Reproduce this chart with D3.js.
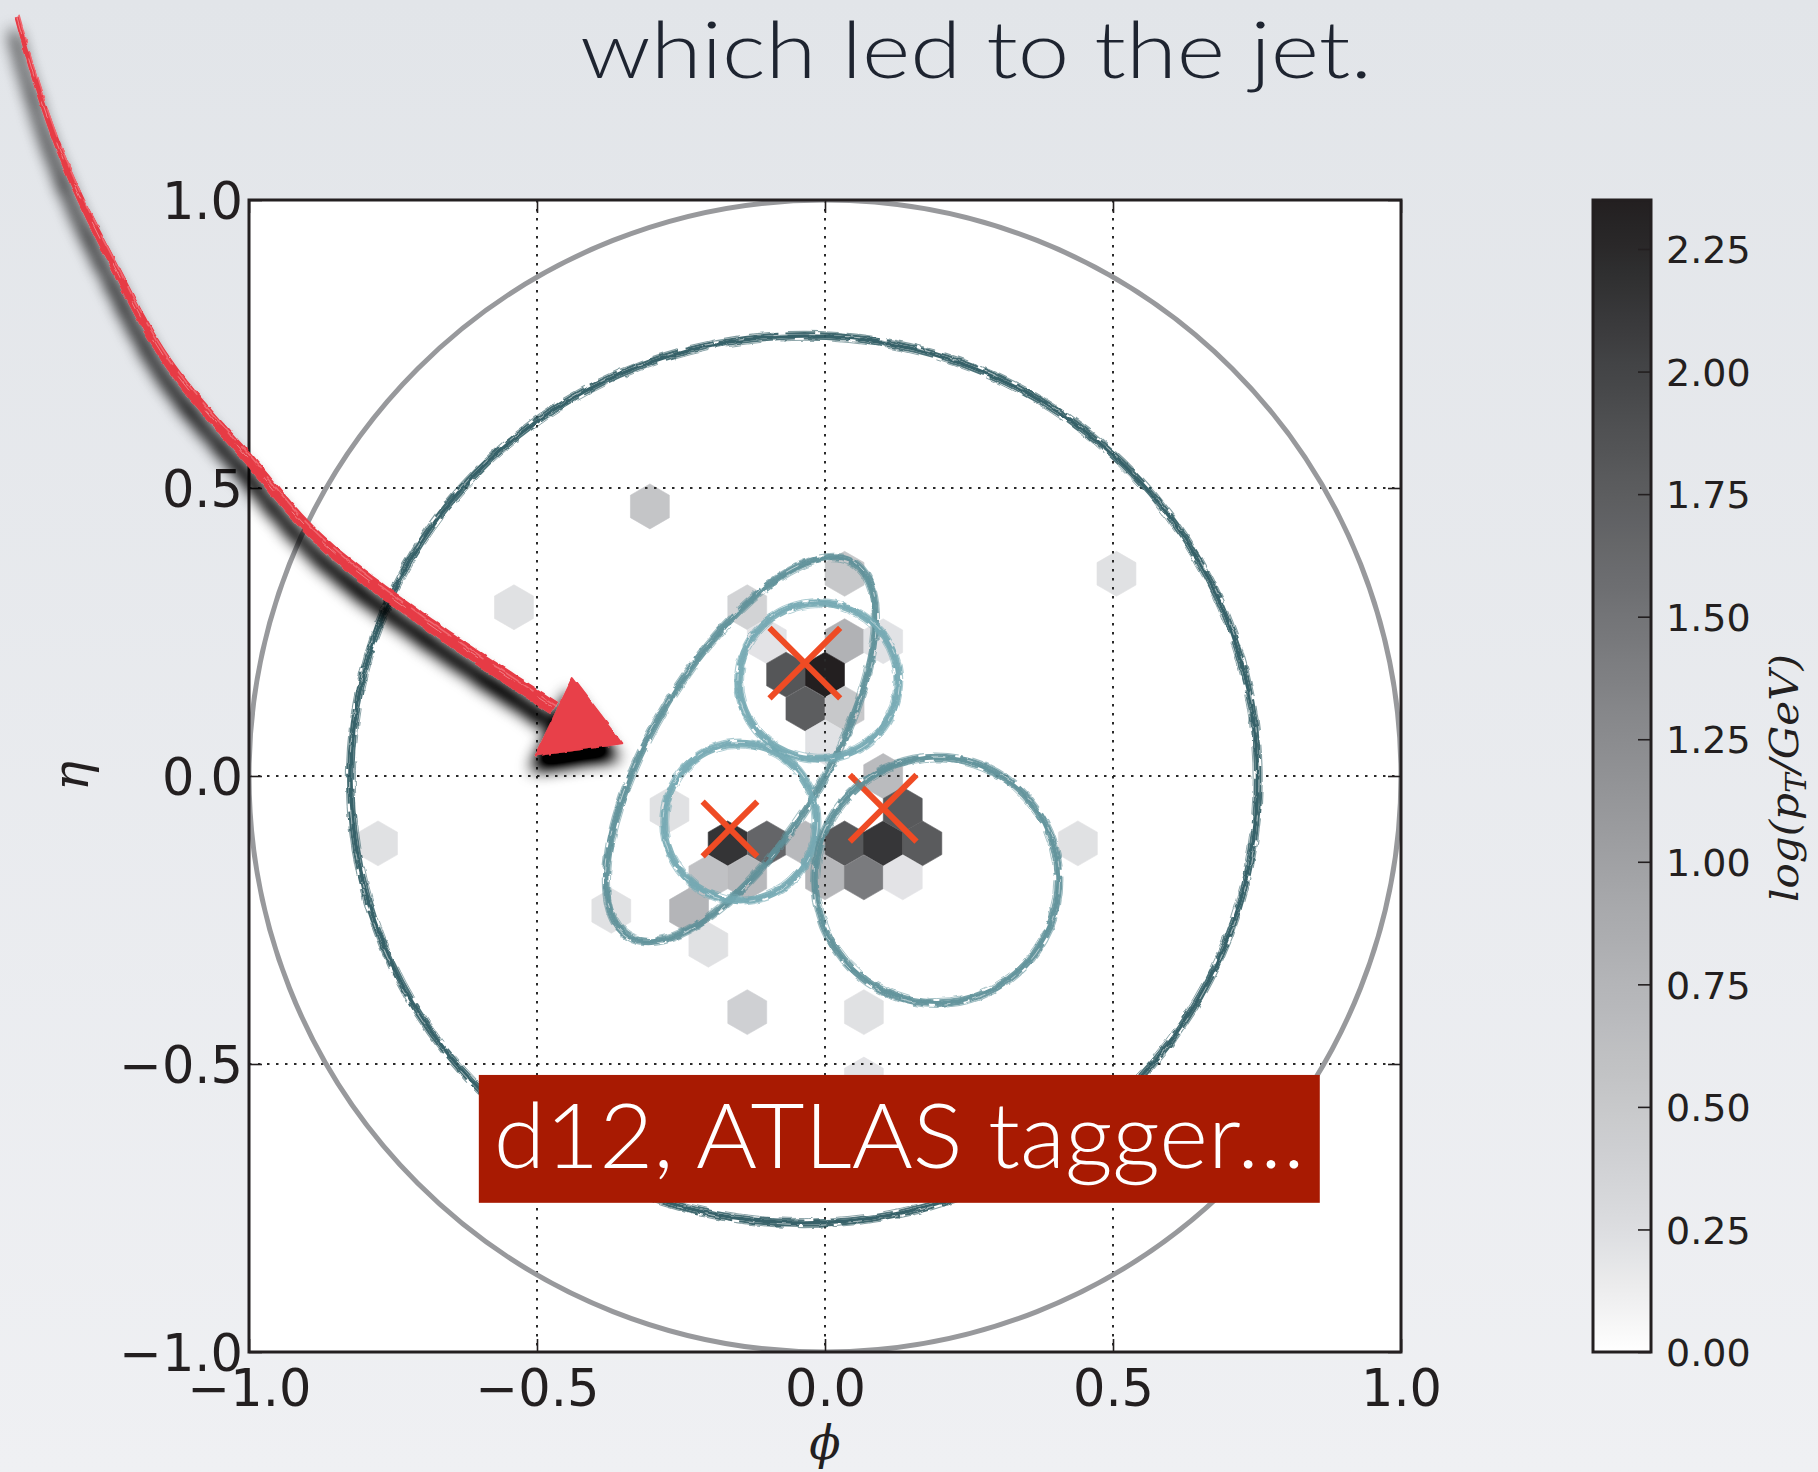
<!DOCTYPE html>
<html><head><meta charset="utf-8">
<script src="https://cdn.jsdelivr.net/npm/d3@7"></script>
<style>html,body{margin:0;padding:0;background:#e8eaee;} svg{display:block}</style>
</head><body>
<svg id="chart" width="1818" height="1472"></svg>
<script>
// ---------------- data ----------------
const title = "which led to the jet.";
const xTicks = [-1.0, -0.5, 0.0, 0.5, 1.0];
const yTicks = [-1.0, -0.5, 0.0, 0.5, 1.0];
const cbarTicks = [0.00, 0.25, 0.50, 0.75, 1.00, 1.25, 1.50, 1.75, 2.00, 2.25];
const cbarMax = 2.35;
const hexSize = 0.039; // hexbin cell radius in (phi) units

// hexbin cells: phi, eta, log(pT/GeV)
const hexPhi = [-0.304, -0.540, 0.506, -0.776, 0.439, -0.371, 0.0675,
  0.034, -0.135, -0.101, 0.034, 0.101, -0.0675, 0.0, -0.034, 0.034, 0.0, 0.101,
  -0.270, -0.169, -0.101, -0.034, 0.034, 0.101, 0.169, 0.135,
  -0.2025, -0.135, 0.0, 0.0675, 0.135, -0.236, -0.2025, -0.135, 0.0675];
const hexEta = [0.468, 0.293, 0.351, -0.117, -0.117, -0.234, -0.527,
  0.351, 0.293, 0.234, 0.234, 0.234, 0.176, 0.176, 0.117, 0.117, 0.0585, 0.0,
  -0.0585, -0.117, -0.117, -0.117, -0.117, -0.117, -0.117, -0.0585,
  -0.176, -0.176, -0.176, -0.176, -0.176, -0.234, -0.293, -0.410, -0.410];
const hexVal = [0.54, 0.22, 0.22, 0.22, 0.22, 0.22, 0.2,
  0.50, 0.37, 0.20, 0.79, 0.21, 1.82, 2.35, 1.75, 0.50, 0.21, 0.67,
  0.22, 2.15, 1.66, 0.70, 1.80, 2.13, 1.77, 1.79,
  0.59, 0.70, 0.74, 1.43, 0.20, 0.75, 0.22, 0.40, 0.22];

// subjet axes (red crosses)
const subPhi = [-0.035, 0.101, -0.165];
const subEta = [0.196, -0.056, -0.092];
const subPt  = [2.35, 2.2, 1.75];

// jet / subjet areas (hand drawn rings): centre, radii, tilt (deg)
const ringName = ["fatjet", "tilted", "top", "lowerLeft", "right"];
const ringPhi  = [-0.036, -0.146, -0.011, -0.147, 0.194];
const ringEta  = [-0.006, 0.046, 0.165, -0.080, -0.181];
const ringRx   = [0.787, 0.378, 0.138, 0.132, 0.211];
const ringRy   = [0.770, 0.150, 0.135, 0.136, 0.213];
const ringTilt = [0, 59, 0, 0, 0];
const ringTone = ["dark", "mid", "light", "light", "mid"];

// annotation arrow (phi, eta)
const arrowPhi = [-1.403, -1.363, -1.311, -1.241, -1.142, -0.998, -0.877, -0.698, -0.470];
const arrowEta = [1.318, 1.182, 1.043, 0.899, 0.720, 0.547, 0.410, 0.271, 0.118];
const arrowHeadPhi = [-0.438, -0.352, -0.502];
const arrowHeadEta = [0.170, 0.057, 0.036];

const labelText = "d12, ATLAS tagger\u2026";
const labelBox = {phi0: -0.601, phi1: 0.859, eta0: -0.519, eta1: -0.741};

// ---------------- drawing ----------------
const W = 1818, H = 1472;
const svg = d3.select("#chart");
const defs = svg.append("defs");
const INK = "#231f20";

const bg = defs.append("linearGradient").attr("id", "bg").attr("x1", 0).attr("y1", 0).attr("x2", 0).attr("y2", 1);
bg.append("stop").attr("offset", 0).attr("stop-color", "#e2e5e9");
bg.append("stop").attr("offset", 1).attr("stop-color", "#eff0f3");
svg.append("rect").attr("width", W).attr("height", H).attr("fill", "url(#bg)");

// rough (brush) filter
const rough = defs.append("filter").attr("id", "rough").attr("x", "-5%").attr("y", "-5%").attr("width", "110%").attr("height", "110%");
rough.append("feTurbulence").attr("type", "fractalNoise").attr("baseFrequency", "0.09").attr("numOctaves", 2).attr("seed", 4).attr("result", "n");
rough.append("feDisplacementMap").attr("in", "SourceGraphic").attr("in2", "n").attr("scale", 3.5)
  .attr("xChannelSelector", "R").attr("yChannelSelector", "G");

const x = d3.scaleLinear().domain([-1, 1]).range([249, 1401]);
const y = d3.scaleLinear().domain([-1, 1]).range([1352, 200]);

const color = d3.scaleLinear()
  .domain([0, 0.1, 0.25, 0.5, 0.75, 1.0, 1.25, 1.5, 1.75, 2.0, 2.25, 2.35])
  .range(["#ffffff", "#f0f0f1", "#dcdde0", "#c7c8ca", "#b4b5b8", "#a0a1a4", "#8b8c8f", "#737477", "#5c5d5f", "#444547", "#2a292a", "#231f20"])
  .clamp(true);

// title
svg.append("text").attr("x", 976).attr("y", 78)
  .attr("text-anchor", "middle")
  .attr("font-family", "Lato, Roboto, 'Open Sans', sans-serif").attr("font-weight", 300)
  .attr("font-size", 79).attr("fill", "#1e2430")
  .attr("textLength", 792).attr("lengthAdjust", "spacingAndGlyphs")
  .text(title);

// plot area
svg.append("rect").attr("x", x(-1)).attr("y", y(1)).attr("width", x(1) - x(-1)).attr("height", y(-1) - y(1)).attr("fill", "#ffffff");
defs.append("clipPath").attr("id", "plotclip").append("rect")
  .attr("x", x(-1)).attr("y", y(1)).attr("width", x(1) - x(-1)).attr("height", y(-1) - y(1));
const plot = svg.append("g").attr("clip-path", "url(#plotclip)");

// hexbins
const r = x(hexSize) - x(0);
const hw = Math.sqrt(3) / 2 * r;
function hexPath(cx, cy) {
  return `M${cx},${cy - r}L${cx + hw},${cy - r / 2}L${cx + hw},${cy + r / 2}L${cx},${cy + r}L${cx - hw},${cy + r / 2}L${cx - hw},${cy - r / 2}Z`;
}
plot.selectAll("path.hex").data(hexVal.map((v, i) => ({phi: hexPhi[i], eta: hexEta[i], v})))
  .join("path").attr("class", "hex")
  .attr("d", d => hexPath(x(d.phi), y(d.eta)))
  .attr("fill", d => color(d.v)).attr("stroke", d => color(d.v)).attr("stroke-width", 0.6);

// grid
const grid = plot.append("g").attr("stroke", "#2a2a2a").attr("stroke-width", 2).attr("stroke-dasharray", "2.5,6.5");
grid.selectAll("line.gx").data(xTicks.slice(1, -1)).join("line")
  .attr("x1", d => x(d)).attr("x2", d => x(d)).attr("y1", y(1)).attr("y2", y(-1));
grid.selectAll("line.gy").data(yTicks.slice(1, -1)).join("line")
  .attr("y1", d => y(d)).attr("y2", d => y(d)).attr("x1", x(-1)).attr("x2", x(1));

// unit circle (R = 1.0)
plot.append("ellipse").attr("cx", x(0)).attr("cy", y(0))
  .attr("rx", x(1) - x(0)).attr("ry", y(0) - y(1))
  .attr("fill", "none").attr("stroke", "#98999c").attr("stroke-width", 5);

// red crosses
const xs = d3.scaleLinear().domain([1.5, 2.4]).range([24, 36]);
const crosses = plot.append("g").attr("stroke", "#ef4b24").attr("stroke-width", 6).attr("stroke-linecap", "butt");
subPhi.forEach((p, i) => {
  const cx = x(p), cy = y(subEta[i]), s = xs(subPt[i]);
  crosses.append("line").attr("x1", cx - s).attr("y1", cy - s).attr("x2", cx + s).attr("y2", cy + s);
  crosses.append("line").attr("x1", cx - s).attr("y1", cy + s).attr("x2", cx + s).attr("y2", cy - s);
});

// hand drawn rings
const tone = {dark: "#2d5a61", mid: "#5d8f98", light: "#73a8b2"};
const ringW = {dark: 6, mid: 6.5, light: 7};
const rings = plot.append("g").attr("filter", "url(#rough)");
ringName.forEach((nm, i) => {
  const cx = x(ringPhi[i]), cy = y(ringEta[i]);
  const rx = x(ringRx[i]) - x(0), ry = y(0) - y(ringRy[i]);
  const g = rings.append("g").attr("transform", `rotate(${-ringTilt[i]},${cx},${cy})`);
  const c = tone[ringTone[i]], w = ringW[ringTone[i]];
  const strokes = [
    {d: 0, w: w * 0.6, o: 0.95, dash: null},
    {d: 2.8, w: w * 0.35, o: 0.9, dash: "60,7,30,5"},
    {d: -2.6, w: w * 0.3, o: 0.85, dash: "45,6,80,9"},
    {d: 4.6, w: 1.1, o: 0.6, dash: "25,14,50,10"},
    {d: -4.4, w: 1.0, o: 0.55, dash: "35,18"}
  ];
  strokes.forEach(s => {
    g.append("ellipse").attr("cx", cx).attr("cy", cy).attr("rx", rx + s.d).attr("ry", ry + s.d)
      .attr("fill", "none").attr("stroke", c).attr("stroke-width", s.w).attr("opacity", s.o)
      .attr("stroke-dasharray", s.dash);
  });
  g.append("ellipse").attr("cx", cx).attr("cy", cy).attr("rx", rx + 1.3).attr("ry", ry + 1.3)
    .attr("fill", "none").attr("stroke", "#ffffff").attr("stroke-width", 0.7).attr("opacity", 0.75)
    .attr("stroke-dasharray", "14,22,6,30");
});

// axes frame + ticks
const frame = svg.append("g");
const axB = d3.axisBottom(x).tickValues(xTicks).tickFormat(d3.format(".1f")).tickSizeInner(-13).tickSizeOuter(0).tickPadding(18);
const axL = d3.axisLeft(y).tickValues(yTicks).tickFormat(d3.format(".1f")).tickSizeInner(-13).tickSizeOuter(0).tickPadding(6);
const axT = d3.axisTop(x).tickValues(xTicks).tickFormat("").tickSizeInner(-13).tickSizeOuter(0);
const axR = d3.axisRight(y).tickValues(yTicks).tickFormat("").tickSizeInner(-13).tickSizeOuter(0);
function styleAxis(g) {
  g.select(".domain").remove();
  g.selectAll(".tick line").attr("stroke", INK).attr("stroke-width", 1.6);
  g.selectAll(".tick text").attr("fill", INK).attr("font-family", "'DejaVu Sans', sans-serif").attr("font-size", 51);
}
frame.append("g").attr("transform", `translate(0,${y(-1)})`).call(axB).call(styleAxis)
  .selectAll(".tick text").attr("dy", "0.71em");
frame.append("g").attr("transform", `translate(${x(-1)},0)`).call(axL).call(styleAxis)
  .selectAll(".tick text").attr("dy", "0.36em");
frame.append("g").attr("transform", `translate(0,${y(1)})`).call(axT).call(styleAxis);
frame.append("g").attr("transform", `translate(${x(1)},0)`).call(axR).call(styleAxis);
frame.append("rect").attr("x", x(-1)).attr("y", y(1)).attr("width", x(1) - x(-1)).attr("height", y(-1) - y(1))
  .attr("fill", "none").attr("stroke", INK).attr("stroke-width", 3);

// axis titles
svg.append("text").attr("x", x(0)).attr("y", 1459).attr("text-anchor", "middle")
  .attr("font-family", "'DejaVu Serif', serif").attr("font-style", "italic").attr("font-size", 46).attr("fill", INK)
  .text("\u03D5");
svg.append("text").attr("transform", `translate(88,${y(0)}) rotate(-90)`).attr("text-anchor", "middle")
  .attr("font-family", "'DejaVu Serif', serif").attr("font-style", "italic").attr("font-size", 50).attr("fill", INK)
  .text("\u03B7");

// colorbar
const cb = d3.scaleLinear().domain([0, cbarMax]).range([1352, 200]);
const cbX = 1593, cbW = 58;
const grad = defs.append("linearGradient").attr("id", "cbgrad").attr("x1", 0).attr("y1", 1).attr("x2", 0).attr("y2", 0);
d3.range(0, 1.0001, 0.02).forEach(t => {
  grad.append("stop").attr("offset", t).attr("stop-color", color(t * cbarMax));
});
svg.append("rect").attr("x", cbX).attr("y", cb(cbarMax)).attr("width", cbW).attr("height", cb(0) - cb(cbarMax))
  .attr("fill", "url(#cbgrad)");
const axC = d3.axisRight(cb).tickValues(cbarTicks).tickFormat(d3.format(".2f")).tickSizeInner(-13).tickSizeOuter(0).tickPadding(15);
svg.append("g").attr("transform", `translate(${cbX + cbW},0)`).call(axC).call(g => {
  g.select(".domain").remove();
  g.selectAll(".tick line").attr("stroke", INK).attr("stroke-width", 1.6);
  g.selectAll(".tick text").attr("fill", INK).attr("font-family", "'DejaVu Sans', sans-serif").attr("font-size", 38).attr("dy", "0.36em");
});
svg.append("rect").attr("x", cbX).attr("y", cb(cbarMax)).attr("width", cbW).attr("height", cb(0) - cb(cbarMax))
  .attr("fill", "none").attr("stroke", INK).attr("stroke-width", 3);
const cbl = svg.append("text").attr("transform", `translate(1798,${cb(cbarMax / 2) + 2}) rotate(-90)`).attr("text-anchor", "middle")
  .attr("font-family", "'DejaVu Serif', serif").attr("font-style", "italic").attr("font-size", 40).attr("fill", INK)
  .attr("textLength", 248).attr("lengthAdjust", "spacingAndGlyphs");
cbl.append("tspan").text("log(p");
cbl.append("tspan").attr("font-size", 28).attr("dy", 8).text("T");
cbl.append("tspan").attr("dy", -8).text("/GeV)");

// label box
svg.append("rect").attr("x", x(labelBox.phi0)).attr("y", y(labelBox.eta0))
  .attr("width", x(labelBox.phi1) - x(labelBox.phi0)).attr("height", y(labelBox.eta1) - y(labelBox.eta0))
  .attr("fill", "#a81a02");
svg.append("text").attr("x", (x(labelBox.phi0) + x(labelBox.phi1)) / 2).attr("y", 1168)
  .attr("text-anchor", "middle").attr("font-family", "Lato, 'Open Sans', sans-serif").attr("font-weight", 300)
  .attr("font-size", 90).attr("fill", "#ffffff")
  .attr("textLength", 811).attr("lengthAdjust", "spacingAndGlyphs")
  .text(labelText);

// arrow with shadow
const sh = defs.append("filter").attr("id", "shadow").attr("x", "-20%").attr("y", "-20%").attr("width", "150%").attr("height", "150%");
sh.append("feGaussianBlur").attr("in", "SourceAlpha").attr("stdDeviation", 8).attr("result", "b");
sh.append("feOffset").attr("in", "b").attr("dx", -4).attr("dy", 15).attr("result", "o");
sh.append("feComponentTransfer").attr("in", "o").attr("result", "o2").append("feFuncA").attr("type", "linear").attr("slope", 1.4);
const mg = sh.append("feMerge");
mg.append("feMergeNode").attr("in", "o2");
mg.append("feMergeNode").attr("in", "SourceGraphic");

const arrowLine = d3.line().x(d => x(d[0])).y(d => y(d[1])).curve(d3.curveCatmullRom.alpha(0.5));
const apts = arrowPhi.map((p, i) => [p, arrowEta[i]]);
// tapered shaft
const tmp = svg.append("path").attr("d", arrowLine(apts)).attr("fill", "none");
const node = tmp.node(), L = node.getTotalLength();
const left = [], right = [];
const N = 160;
for (let i = 0; i <= N; i++) {
  const t = i / N, s = t * L;
  const p = node.getPointAtLength(s);
  const pa = node.getPointAtLength(Math.max(0, s - 1)), pb = node.getPointAtLength(Math.min(L, s + 1));
  let tx = pb.x - pa.x, ty = pb.y - pa.y; const len = Math.hypot(tx, ty) || 1; tx /= len; ty /= len;
  const w = 2.2 + 5.0 * Math.pow(t, 0.8);
  left.push([p.x - ty * w, p.y + tx * w]);
  right.push([p.x + ty * w, p.y - tx * w]);
}
tmp.remove();
const shaft = "M" + left.map(p => p.join(",")).join("L") + "L" + right.reverse().map(p => p.join(",")).join("L") + "Z";
const ag = svg.append("g").attr("filter", "url(#shadow)");
const ag2 = ag.append("g").attr("filter", "url(#rough)");
ag2.append("path").attr("d", shaft).attr("fill", "#e63b45");
ag2.append("path").attr("d", arrowLine(apts)).attr("fill", "none").attr("stroke", "#f06870").attr("stroke-width", 1.6).attr("stroke-dasharray", "30,10,50,8").attr("transform", "translate(2,-2)");
ag2.append("path").attr("d", arrowLine(apts)).attr("fill", "none").attr("stroke", "#ffffff").attr("stroke-width", 0.8).attr("opacity", 0.45).attr("stroke-dasharray", "18,26");
ag2.append("polygon").attr("points", arrowHeadPhi.map((p, i) => [x(p), y(arrowHeadEta[i])].join(",")).join(" "))
  .attr("fill", "#e8404a").attr("stroke", "#e8404a").attr("stroke-width", 2).attr("stroke-linejoin", "round");
</script>
</body></html>
